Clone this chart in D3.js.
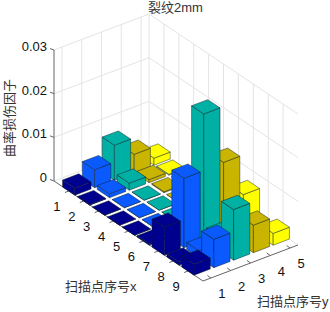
<!DOCTYPE html>
<html>
<head>
<meta charset="utf-8">
<script src="https://cdn.jsdelivr.net/npm/d3@7"></script>
<style>
  html, body { margin: 0; padding: 0; background: #fff; }
  svg { display: block; }
  text { font-family: "Liberation Sans", "Noto Sans CJK SC", sans-serif; font-size: 13px; fill: #111; }
  text.cjk { fill: #333; }
</style>
</head>
<body>
<div id="chart"></div>
<script>
// Values
const xTicks = [1, 2, 3, 4, 5, 6, 7, 8, 9];
const yTicks = [1, 2, 3, 4, 5];
const zTicks = [0, 0.01, 0.02, 0.03];
const zLabels = ["0", "0.01", "0.02", "0.03"];

const row1 = [0.0016, 0.0001, 0, 0, 0, 0.0003, 0.0064, 0.0007, 0.0025];
const row2 = [0.0041, 0.0009, 0, 0, 0, 0, 0.0159, 0.0016, 0.0065];
const row3 = [0.0080, 0.0016, 0, 0, 0, 0, 0.0289, 0.0032, 0.0116];
const row4 = [0.0042, 0.0007, 0.0002, 0, 0, 0, 0.0161, 0, 0.0063];
const row5 = [0.0016, 0.0002, 0, 0, 0, 0, 0.0070, 0, 0.0027];
const rows = [row1, row2, row3, row4, row5];
const rowColors = ["#00008f", "#0a5aff", "#00b0a5", "#c9b400", "#ffff00"];

const width = 330;
const height = 312;
const barHalf = 0.41;

/*******************************/
/*    Projection and scales    */
/*******************************/
const origin = {x: 54, y: 181};
const xVec = {x: 149, y: 100};
const yVec = {x: 95, y: -36};

const xScale = d3.scaleLinear().domain([0, 10]).range([0, 1]);
const yScale = d3.scaleLinear().domain([0.6, 5.4]).range([0, 1]);
const zScale = d3.scaleLinear().domain([0, 0.03]).range([0, 131]);

const project = (x, y, z = 0) => [
  origin.x + xScale(x) * xVec.x + yScale(y) * yVec.x,
  origin.y + xScale(x) * xVec.y + yScale(y) * yVec.y - zScale(z)
];

const svg = d3.select("#chart")
  .append("svg")
    .attr("width", width)
    .attr("height", height);

const segment = (g, a, b, color, w) => g.append("line")
  .attr("x1", a[0]).attr("y1", a[1])
  .attr("x2", b[0]).attr("y2", b[1])
  .attr("stroke", color)
  .attr("stroke-width", w);

/**************************/
/*    Walls and floor     */
/**************************/
const xMin = xScale.domain()[0], xMax = xScale.domain()[1];
const yMin = yScale.domain()[0], yMax = yScale.domain()[1];
const zMax = zScale.domain()[1];
const gridColor = "#e4e4e4";
const grid = svg.append("g");

zTicks.forEach(z => {
  segment(grid, project(xMin, yMin, z), project(xMin, yMax, z), gridColor, 1);
  segment(grid, project(xMin, yMax, z), project(xMax, yMax, z), gridColor, 1);
});
yTicks.forEach(y => {
  segment(grid, project(xMin, y, 0), project(xMin, y, zMax), gridColor, 1);
});
xTicks.forEach(x => {
  segment(grid, project(x, yMax, 0), project(x, yMax, zMax), gridColor, 1);
});
segment(grid, project(xMin, yMax, 0), project(xMin, yMax, zMax), gridColor, 1);

/**************************/
/*      Add the axes      */
/**************************/
const axisColor = "#666";
const axes = svg.append("g");
segment(axes, project(xMin, yMin, 0), project(xMin, yMin, zMax), axisColor, 1);
segment(axes, project(xMin, yMin, 0), project(xMax, yMin, 0), axisColor, 1);
segment(axes, project(xMax, yMin, 0), project(xMax, yMax, 0), axisColor, 1);

zTicks.forEach((z, i) => {
  const p = project(xMin, yMin, z);
  segment(axes, p, [p[0] - 4, p[1] - 1.5], axisColor, 1);
  axes.append("text")
    .attr("x", p[0] - 7)
    .attr("y", p[1] + 1)
    .attr("text-anchor", "end")
    .text(zLabels[i]);
});
xTicks.forEach(x => {
  const p = project(x, yMin, 0);
  segment(axes, p, [p[0] - 4, p[1] + 1.5], axisColor, 1);
  axes.append("text")
    .attr("x", p[0] - 12)
    .attr("y", p[1] + 20)
    .attr("text-anchor", "middle")
    .text(x);
});
yTicks.forEach(y => {
  const p = project(xMax, y, 0);
  segment(axes, p, [p[0] - 3.5, p[1] - 2.5], axisColor, 1);
  axes.append("text")
    .attr("x", p[0] + 11)
    .attr("y", p[1] + 20)
    .attr("text-anchor", "middle")
    .text(y);
});

/******************************/
/*       Add the bars         */
/******************************/
// Painter's order, from the back corner to the front corner
const cells = [];
yTicks.forEach((y, j) => {
  xTicks.forEach((x, i) => {
    cells.push({x, y, z: rows[j][i], color: rowColors[j]});
  });
});
cells.sort((a, b) => (a.x - a.y) - (b.x - b.y));

const face = d3.line();
const bars = svg.append("g")
  .attr("stroke", "#0a1a22")
  .attr("stroke-opacity", 0.75)
  .attr("stroke-width", 0.6)
  .attr("stroke-linejoin", "round");

cells.forEach(d => {
  const x0 = d.x - barHalf, x1 = d.x + barHalf;
  const y0 = d.y - barHalf, y1 = d.y + barHalf;
  const g = bars.append("g").attr("fill", d.color);
  // face towards the x label
  g.append("path").attr("d", face([
    project(x0, y0, 0), project(x1, y0, 0), project(x1, y0, d.z), project(x0, y0, d.z)
  ]) + "Z");
  // face towards the y label
  g.append("path").attr("d", face([
    project(x1, y0, 0), project(x1, y1, 0), project(x1, y1, d.z), project(x1, y0, d.z)
  ]) + "Z");
  // top
  g.append("path").attr("d", face([
    project(x0, y0, d.z), project(x1, y0, d.z), project(x1, y1, d.z), project(x0, y1, d.z)
  ]) + "Z");
});

/**************************/
/*        Add labels      */
/**************************/
svg.append("text")
  .attr("class", "cjk")
  .attr("x", 175.5)
  .attr("y", 12)
  .attr("text-anchor", "middle")
  .text("裂纹2mm");
svg.append("text")
  .attr("class", "cjk")
  .attr("transform", "translate(14, 118) rotate(-90)")
  .attr("text-anchor", "middle")
  .text("曲率损伤因子");
svg.append("text")
  .attr("class", "cjk")
  .attr("x", 65)
  .attr("y", 291)
  .text("扫描点序号x");
svg.append("text")
  .attr("class", "cjk")
  .attr("x", 257)
  .attr("y", 306)
  .text("扫描点序号y");
</script>
</body>
</html>
